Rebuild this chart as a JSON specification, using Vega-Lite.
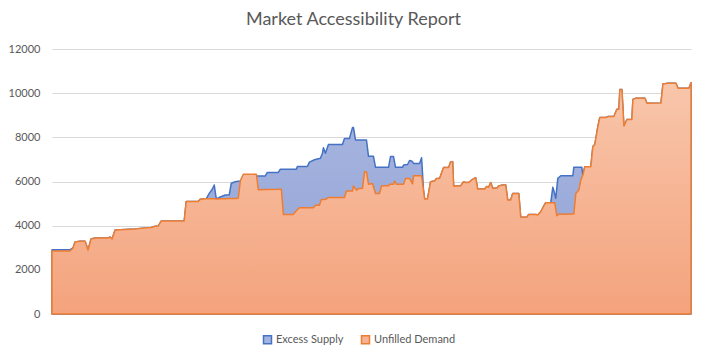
{
  "$schema": "https://vega.github.io/schema/vega-lite/v6.json",
  "width": 639,
  "height": 265,
  "autosize": {"type": "none"},
  "padding": {"left": 52, "top": 49, "right": 14, "bottom": 46},
  "background": "white",
  "title": {"text": "Market Accessibility Report", "fontSize": 18, "font": "Lato", "fontWeight": "normal", "color": "#595959", "anchor": "middle", "dx": -18, "offset": 14},
  "data": {"values": [
    {"t":0,"supply":2910,"demand":2850},{"t":18,"supply":2910,"demand":2850},{"t":21,"supply":2990,"demand":2990},
    {"t":23,"supply":3260,"demand":3260},{"t":28,"supply":3300,"demand":3300},{"t":33,"supply":3300,"demand":3300},
    {"t":36,"supply":2900,"demand":2900},{"t":39,"supply":3400,"demand":3400},{"t":43,"supply":3440,"demand":3440},
    {"t":56,"supply":3440,"demand":3440},{"t":58,"supply":3490,"demand":3490},{"t":60,"supply":3400,"demand":3400},
    {"t":63,"supply":3800,"demand":3800},{"t":73,"supply":3830,"demand":3830},{"t":83,"supply":3850,"demand":3850},
    {"t":93,"supply":3900,"demand":3900},{"t":99,"supply":3920,"demand":3920},{"t":103,"supply":3970,"demand":3970},
    {"t":106,"supply":3980,"demand":3980},{"t":109,"supply":4210,"demand":4210},{"t":132,"supply":4210,"demand":4210},
    {"t":134,"supply":5090,"demand":5090},{"t":146,"supply":5090,"demand":5090},{"t":148,"supply":5200,"demand":5200},
    {"t":154,"supply":5215,"demand":5215},{"t":157,"supply":5460,"demand":5218},{"t":160,"supply":5650,"demand":5220},
    {"t":162,"supply":5840,"demand":5218},{"t":164,"supply":5210,"demand":5210},{"t":168,"supply":5300,"demand":5214},
    {"t":173,"supply":5390,"demand":5220},{"t":177,"supply":5400,"demand":5225},{"t":179,"supply":5920,"demand":5230},
    {"t":183,"supply":5990,"demand":5235},{"t":186,"supply":6010,"demand":5240},{"t":188,"supply":6020,"demand":6020},
    {"t":191,"supply":6250,"demand":6330},{"t":204,"supply":6250,"demand":6330},{"t":206,"supply":6250,"demand":5630},
    {"t":213,"supply":6250,"demand":5640},{"t":215,"supply":6410,"demand":5640},{"t":226,"supply":6410,"demand":5645},
    {"t":228,"supply":6560,"demand":5650},{"t":229,"supply":6560,"demand":5650},{"t":231,"supply":6560,"demand":4510},
    {"t":241,"supply":6560,"demand":4510},{"t":243,"supply":6560,"demand":4630},{"t":244,"supply":6560,"demand":4675},
    {"t":245,"supply":6680,"demand":4720},{"t":247,"supply":6680,"demand":4810},{"t":255,"supply":6680,"demand":4810},
    {"t":257,"supply":6880,"demand":4810},{"t":261,"supply":6960,"demand":4810},{"t":263,"supply":7000,"demand":4920},
    {"t":267,"supply":7040,"demand":4920},{"t":268,"supply":7050,"demand":5055},{"t":269,"supply":7165,"demand":5190},
    {"t":270,"supply":7280,"demand":5190},{"t":271,"supply":7530,"demand":5190},{"t":273,"supply":7280,"demand":5190},
    {"t":276,"supply":7680,"demand":5270},{"t":281,"supply":7680,"demand":5280},{"t":290,"supply":7680,"demand":5280},
    {"t":292,"supply":7950,"demand":5280},{"t":294,"supply":7950,"demand":5570},{"t":297,"supply":7950,"demand":5570},
    {"t":300,"supply":8440,"demand":5570},{"t":301,"supply":8440,"demand":5800},{"t":303,"supply":7880,"demand":5670},
    {"t":304,"supply":7880,"demand":5610},{"t":306,"supply":7880,"demand":5680},{"t":310,"supply":7880,"demand":5690},
    {"t":312,"supply":7880,"demand":6440},{"t":314,"supply":7880,"demand":6440},{"t":316,"supply":7140,"demand":5880},
    {"t":320,"supply":7140,"demand":5910},{"t":321,"supply":7140,"demand":5760},{"t":323,"supply":6640,"demand":5460},
    {"t":327,"supply":6640,"demand":5460},{"t":329,"supply":6640,"demand":5810},{"t":336,"supply":6640,"demand":5810},
    {"t":337,"supply":6885,"demand":5870},{"t":338,"supply":7130,"demand":5870},{"t":341,"supply":7130,"demand":5870},
    {"t":342,"supply":6880,"demand":6020},{"t":343,"supply":6640,"demand":5945},{"t":344,"supply":6640,"demand":5870},
    {"t":350,"supply":6640,"demand":5870},{"t":351,"supply":6750,"demand":5870},{"t":353,"supply":6760,"demand":6140},
    {"t":355,"supply":6770,"demand":6140},{"t":357,"supply":6950,"demand":6140},{"t":359,"supply":6930,"demand":5970},
    {"t":360,"supply":6880,"demand":5890},{"t":361,"supply":6820,"demand":6260},{"t":367,"supply":6820,"demand":6260},
    {"t":369,"supply":7080,"demand":6260},{"t":371,"supply":5560,"demand":5560},{"t":372,"supply":5210,"demand":5210},
    {"t":375,"supply":5210,"demand":5210},{"t":378,"supply":5990,"demand":5990},{"t":382,"supply":6020,"demand":6020},
    {"t":384,"supply":6140,"demand":6140},{"t":387,"supply":6140,"demand":6140},{"t":391,"supply":6630,"demand":6630},
    {"t":396,"supply":6630,"demand":6630},{"t":398,"supply":6880,"demand":6880},{"t":400,"supply":6900,"demand":6900},
    {"t":401,"supply":5800,"demand":5800},{"t":408,"supply":5800,"demand":5800},{"t":411,"supply":5990,"demand":5990},
    {"t":413,"supply":5950,"demand":5950},{"t":416,"supply":5950,"demand":5950},{"t":420,"supply":6100,"demand":6100},
    {"t":423,"supply":6170,"demand":6170},{"t":425,"supply":5660,"demand":5660},{"t":432,"supply":5660,"demand":5660},
    {"t":434,"supply":5770,"demand":5770},{"t":436,"supply":5740,"demand":5740},{"t":438,"supply":5950,"demand":5950},
    {"t":440,"supply":5690,"demand":5690},{"t":444,"supply":5690,"demand":5690},{"t":446,"supply":5800,"demand":5800},
    {"t":450,"supply":5840,"demand":5840},{"t":453,"supply":5840,"demand":5840},{"t":455,"supply":5160,"demand":5160},
    {"t":458,"supply":5160,"demand":5160},{"t":460,"supply":5460,"demand":5460},{"t":466,"supply":5460,"demand":5460},
    {"t":468,"supply":4380,"demand":4380},{"t":474,"supply":4380,"demand":4380},{"t":476,"supply":4510,"demand":4510},
    {"t":483,"supply":4510,"demand":4510},{"t":485,"supply":4480,"demand":4480},{"t":488,"supply":4630,"demand":4630},
    {"t":491,"supply":4890,"demand":4890},{"t":493,"supply":5040,"demand":5040},{"t":498,"supply":5040,"demand":5040},
    {"t":500,"supply":5740,"demand":5040},{"t":501,"supply":5600,"demand":5040},{"t":502,"supply":5420,"demand":5040},
    {"t":503,"supply":5240,"demand":4745},{"t":504,"supply":5690,"demand":4450},{"t":505,"supply":6140,"demand":4485},
    {"t":506,"supply":6180,"demand":4520},{"t":508,"supply":6260,"demand":4521},{"t":520,"supply":6260,"demand":4530},
    {"t":521,"supply":6640,"demand":4530},{"t":523,"supply":6640,"demand":5460},{"t":526,"supply":6640,"demand":5610},
    {"t":528,"supply":6640,"demand":6070},{"t":529,"supply":6640,"demand":6180},{"t":530,"supply":6290,"demand":6290},
    {"t":532,"supply":6670,"demand":6670},{"t":538,"supply":6670,"demand":6670},{"t":540,"supply":7580,"demand":7580},
    {"t":542,"supply":7680,"demand":7680},{"t":545,"supply":8480,"demand":8480},{"t":547,"supply":8900,"demand":8900},
    {"t":553,"supply":8900,"demand":8900},{"t":555,"supply":8940,"demand":8940},{"t":561,"supply":8940,"demand":8940},
    {"t":564,"supply":9270,"demand":9270},{"t":566,"supply":9270,"demand":9270},{"t":567,"supply":10170,"demand":10170},
    {"t":569,"supply":10170,"demand":10170},{"t":571,"supply":8510,"demand":8510},{"t":574,"supply":8810,"demand":8810},
    {"t":579,"supply":8810,"demand":8810},{"t":580,"supply":9720,"demand":9720},{"t":583,"supply":9770,"demand":9770},
    {"t":592,"supply":9770,"demand":9770},{"t":594,"supply":9540,"demand":9540},{"t":608,"supply":9550,"demand":9550},
    {"t":610,"supply":10410,"demand":10410},{"t":615,"supply":10450,"demand":10450},{"t":623,"supply":10450,"demand":10450},
    {"t":625,"supply":10220,"demand":10220},{"t":636,"supply":10220,"demand":10220},{"t":638,"supply":10470,"demand":10470}
  ]},
  "encoding": {
    "x": {"field": "t", "type": "quantitative", "scale": {"domain": [0, 638], "nice": false, "zero": false}, "axis": null}
  },
  "layer": [
    {
      "mark": {"type": "area", "strokeWidth": 1.5, "strokeJoin": "round", "stroke": "#4472c4",
               "fill": {"gradient": "linear", "x1": 0, "y1": 0, "x2": 0, "y2": 1, "stops": [{"offset": 0, "color": "#a9b7e0"}, {"offset": 1, "color": "#91a2d5"}]}},
      "encoding": {
        "y": {"field": "supply", "type": "quantitative", "scale": {"domain": [0, 12000], "nice": false},
              "axis": {"title": null, "values": [0, 2000, 4000, 6000, 8000, 10000, 12000], "grid": true, "gridColor": "#d9d9d9", "gridWidth": 1, "domain": false, "ticks": false, "labelPadding": 12, "labelFont": "Lato", "labelFontSize": 11, "labelColor": "#595959", "format": "d"}}
      }
    },
    {
      "mark": {"type": "area", "strokeWidth": 1.5, "strokeJoin": "round", "stroke": "#ed7d31",
               "fill": {"gradient": "linear", "x1": 0, "y1": 0, "x2": 0, "y2": 1, "stops": [{"offset": 0, "color": "#f8c6ab"}, {"offset": 1, "color": "#f4a37d"}]}},
      "encoding": {
        "y": {"field": "demand", "type": "quantitative"}
      }
    },
    {
      "transform": [{"filter": "datum.t == 0"}],
      "mark": {"type": "square", "opacity": 0, "size": 1},
      "encoding": {
        "y": {"field": "demand", "type": "quantitative"},
        "fill": {"datum": "Excess Supply", "scale": {"domain": ["Excess Supply", "Unfilled Demand"], "range": ["#a5b4de", "#f6b393"]}, "legend": {"title": null, "symbolOpacity": 1, "orient": "none", "legendX": 210, "legendY": 285}},
        "stroke": {"datum": "Excess Supply", "scale": {"domain": ["Excess Supply", "Unfilled Demand"], "range": ["#4472c4", "#ed7d31"]}, "legend": {"title": null, "symbolOpacity": 1, "orient": "none", "legendX": 210, "legendY": 285}}
      }
    },
    {
      "transform": [{"filter": "datum.t == 0"}],
      "mark": {"type": "square", "opacity": 0, "size": 1},
      "encoding": {
        "y": {"field": "demand", "type": "quantitative"},
        "fill": {"datum": "Unfilled Demand"},
        "stroke": {"datum": "Unfilled Demand"}
      }
    }
  ],
  "config": {
    "view": {"stroke": null},
    "legend": {"direction": "horizontal", "symbolType": "square", "symbolSize": 64, "symbolStrokeWidth": 1.5, "symbolOpacity": 1, "labelFont": "Lato", "labelFontSize": 11, "labelColor": "#595959", "columnPadding": 14, "labelOffset": 3}
  }
}
